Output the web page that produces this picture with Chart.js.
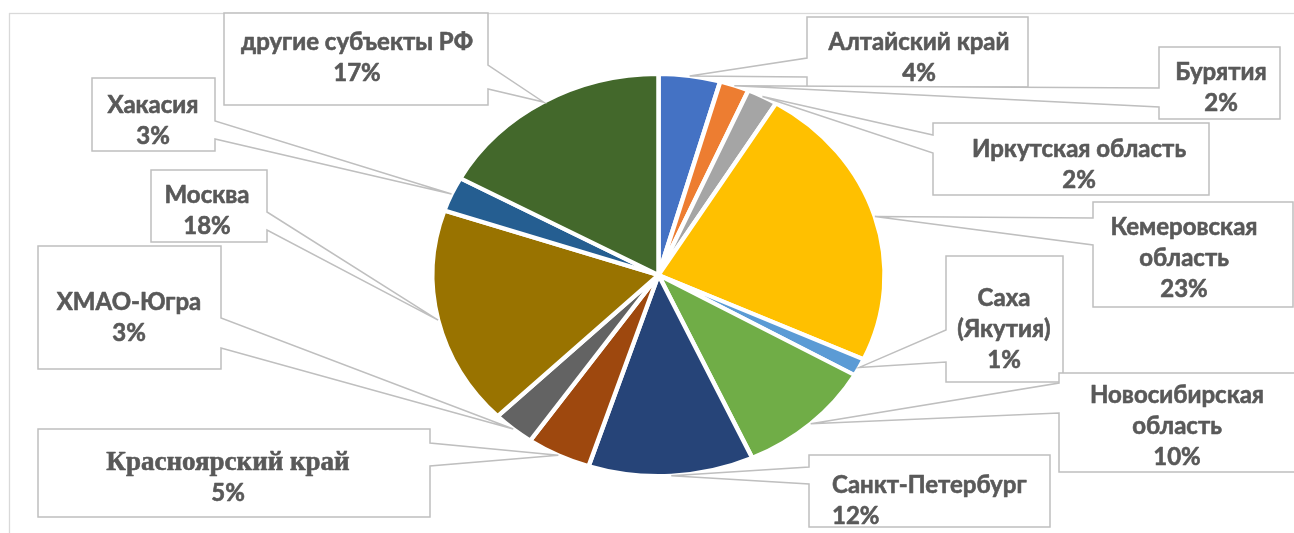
<!DOCTYPE html>
<html>
<head>
<meta charset="utf-8">
<script src="https://cdn.jsdelivr.net/npm/chart.js@4"></script>
<style>
  html, body { margin: 0; padding: 0; background: #ffffff; overflow: hidden; }
  #wrap { position: relative; width: 1294px; height: 533px; }
  canvas { display: block; }
</style>
</head>
<body>
<div id="wrap"><canvas id="c" width="1294" height="533"></canvas></div>
<script>
// ---- data ----
const categories = [
  ['Алтайский край'],
  ['Бурятия'],
  ['Иркутская область'],
  ['Кемеровская', 'область'],
  ['Саха', '(Якутия)'],
  ['Новосибирская', 'область'],
  ['Санкт-Петербург'],
  ['Красноярский край'],
  ['ХМАО-Югра'],
  ['Москва'],
  ['Хакасия'],
  ['другие субъекты РФ']
];
const shares = [4.4, 2.1, 2.2, 23.2, 1.4, 9.9, 11.8, 4.6, 3.0, 17.6, 2.8, 17.0];
const sliceColors = ['#4472C4', '#ED7D31', '#A5A5A5', '#FFC000', '#5B9BD5', '#70AD47',
                     '#264478', '#9E480E', '#636363', '#997300', '#255E91', '#43682B'];

// ---- layout of the callout boxes (x, y, w, h, pointer side, pointer base b1..b2, first baseline, text x) ----
const boxes = [
  {x: 807, y: 17,  w: 221, h: 70,  side: 'left',  b1: 58,  b2: 77,  ty: 50,  cx: 919},
  {x: 1159, y: 47, w: 121, h: 72,  side: 'left',  b1: 88,  b2: 107, ty: 80,  cx: 1221},
  {x: 933, y: 123, w: 276, h: 72,  side: 'left',  b1: 135, b2: 153, ty: 157, cx: 1079},
  {x: 1093, y: 202, w: 200, h: 105, side: 'left', b1: 218, b2: 245, ty: 235, cx: 1184},
  {x: 946, y: 256, w: 117, h: 126, side: 'left',  b1: 330, b2: 362, ty: 306, cx: 1004},
  {x: 1059, y: 373, w: 236, h: 99, side: 'left',  b1: 383, b2: 413, ty: 403, cx: 1177},
  {x: 809, y: 455, w: 241, h: 72,  side: 'left',  b1: 467, b2: 484, ty: 493, cx: 832, align: 'left'},
  {x: 38, y: 429,  w: 392, h: 88,  side: 'right', b1: 443, b2: 466, ty: 470, cx: 228, serif: true},
  {x: 38, y: 246,  w: 183, h: 123, side: 'right', b1: 318, b2: 348, ty: 310, cx: 129},
  {x: 151, y: 170, w: 116, h: 72,  side: 'right', b1: 212, b2: 230, ty: 203, cx: 207},
  {x: 92, y: 78,   w: 123, h: 73,  side: 'right', b1: 121, b2: 139, ty: 113, cx: 153},
  {x: 224, y: 13,  w: 264, h: 92,  side: 'right', b1: 65,  b2: 89,  ty: 50,  cx: 357}
];

const STRETCH_X = 1.125;   // the reference pie is drawn as a slightly wide ellipse
const LINE_H = 31;
const TEXT_COLOR = '#595959';
const BOX_STROKE = '#BFBFBF';

const total = shares.reduce((a, b) => a + b, 0);

const framePlugin = {
  id: 'frame',
  beforeDraw(chart) {
    const ctx = chart.ctx;
    ctx.save();
    ctx.fillStyle = '#ffffff';
    ctx.fillRect(0, 0, chart.width, chart.height);
    ctx.strokeStyle = '#D9D9D9';
    ctx.lineWidth = 1.3;
    ctx.strokeRect(9.5, 13.5, chart.width + 20, chart.height + 20);
    ctx.restore();
  }
};

const stretchPlugin = {
  id: 'stretch',
  beforeDatasetsDraw(chart) {
    const arc = chart.getDatasetMeta(0).data[0];
    const ctx = chart.ctx;
    ctx.save();
    ctx.translate(arc.x, arc.y);
    ctx.scale(STRETCH_X, 1);
    ctx.translate(-arc.x, -arc.y);
  },
  afterDatasetsDraw(chart) {
    chart.ctx.restore();
  }
};

const calloutPlugin = {
  id: 'callouts',
  afterDatasetsDraw(chart) {
    const ctx = chart.ctx;
    const meta = chart.getDatasetMeta(0);
    const values = chart.data.datasets[0].data;
    meta.data.forEach((arc, i) => {
      const p = arc.getProps(['x', 'y', 'startAngle', 'endAngle', 'outerRadius'], true);
      const mid = (p.startAngle + p.endAngle) / 2;
      const tx = p.x + Math.cos(mid) * p.outerRadius * STRETCH_X;
      const ty = p.y + Math.sin(mid) * p.outerRadius;
      const b = boxes[i];
      ctx.save();
      ctx.beginPath();
      if (b.side === 'left') {
        ctx.moveTo(b.x, b.y);
        ctx.lineTo(b.x + b.w, b.y);
        ctx.lineTo(b.x + b.w, b.y + b.h);
        ctx.lineTo(b.x, b.y + b.h);
        ctx.lineTo(b.x, b.b2);
        ctx.lineTo(tx, ty);
        ctx.lineTo(b.x, b.b1);
      } else {
        ctx.moveTo(b.x, b.y);
        ctx.lineTo(b.x + b.w, b.y);
        ctx.lineTo(b.x + b.w, b.b1);
        ctx.lineTo(tx, ty);
        ctx.lineTo(b.x + b.w, b.b2);
        ctx.lineTo(b.x + b.w, b.y + b.h);
        ctx.lineTo(b.x, b.y + b.h);
      }
      ctx.closePath();
      ctx.fillStyle = '#ffffff';
      ctx.fill();
      ctx.strokeStyle = BOX_STROKE;
      ctx.lineWidth = 1.5;
      ctx.lineJoin = 'miter';
      ctx.stroke();

      const lines = chart.data.labels[i].slice();
      lines.push(Math.round(values[i] / total * 100) + '%');
      ctx.fillStyle = TEXT_COLOR;
      ctx.strokeStyle = TEXT_COLOR;
      ctx.lineWidth = 0.6;
      ctx.lineJoin = 'round';
      ctx.textBaseline = 'alphabetic';
      ctx.textAlign = b.align === 'left' ? 'left' : 'center';
      lines.forEach((ln, k) => {
        const isPct = k === lines.length - 1;
        ctx.font = (b.serif && !isPct) ? 'bold 27px "Liberation Serif"' : 'bold 24px Lato';
        ctx.fillText(ln, b.cx, b.ty + k * LINE_H);
        ctx.strokeText(ln, b.cx, b.ty + k * LINE_H);
      });
      ctx.restore();
    });
  }
};

new Chart(document.getElementById('c'), {
  type: 'pie',
  data: {
    labels: categories,
    datasets: [{
      data: shares,
      backgroundColor: sliceColors,
      borderColor: '#ffffff',
      borderWidth: 4,
      hoverOffset: 0,
      offset: 0
    }]
  },
  options: {
    responsive: false,
    animation: false,
    events: [],
    layout: { padding: { left: 297, right: 274, top: 72, bottom: 55 } },
    plugins: {
      legend: { display: false },
      tooltip: { enabled: false },
      title: { display: false }
    }
  },
  plugins: [framePlugin, stretchPlugin, calloutPlugin]
});
</script>
</body>
</html>
